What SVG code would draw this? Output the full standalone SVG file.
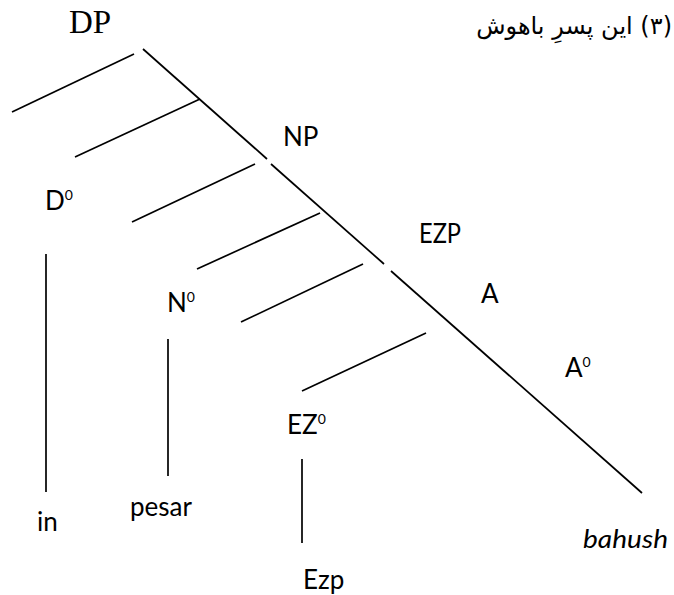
<svg xmlns="http://www.w3.org/2000/svg" width="674" height="595" viewBox="0 0 674 595">
  <style>
    .lbl { font-family: Lato, "Open Sans", sans-serif; font-size: 26px; fill: #000; }
    .sup { font-size: 14px; }
    .it { font-style: italic; }
    .serif { font-family: "Liberation Serif", "Times New Roman", serif; font-size: 33px; fill: #000; }
    .fa { font-family: "DejaVu Sans", sans-serif; font-size: 24px; fill: #000; }
    .edge { stroke: #000; stroke-width: 1.7; fill: none; stroke-linecap: butt; }
  </style>
  <rect width="674" height="595" fill="#fff"/>

  <g id="caption">
    <text class="fa" x="672" y="34" direction="rtl" text-anchor="start">(۳) این پسرِ باهوش</text>
  </g>

  <g id="connectors">
    <line class="edge" x1="143" y1="49" x2="267" y2="159"/>
    <line class="edge" x1="271" y1="164" x2="384" y2="264"/>
    <line class="edge" x1="391" y1="271" x2="642" y2="493"/>
    <line class="edge" x1="12" y1="112" x2="134" y2="54"/>
    <line class="edge" x1="75" y1="157" x2="200" y2="99"/>
    <line class="edge" x1="132" y1="222" x2="255" y2="164"/>
    <line class="edge" x1="197" y1="269" x2="320" y2="213"/>
    <line class="edge" x1="241" y1="322" x2="363" y2="264"/>
    <line class="edge" x1="302" y1="391" x2="426" y2="333"/>
    <line class="edge" x1="46" y1="254" x2="46" y2="492"/>
    <line class="edge" x1="168" y1="339" x2="168" y2="476"/>
    <line class="edge" x1="302" y1="459" x2="302" y2="543"/>
  </g>

  <g id="node-DP"><text class="serif" x="69" y="33">DP</text></g>
  <g id="node-NP"><text class="lbl" x="283" y="146">NP</text></g>
  <g id="node-D0"><text class="lbl" x="45" y="210">D<tspan class="sup" dy="-10">0</tspan></text></g>
  <g id="node-EZP"><text class="lbl" x="419" y="243" textLength="42" lengthAdjust="spacingAndGlyphs">EZP</text></g>
  <g id="node-N0"><text class="lbl" x="167" y="312">N<tspan class="sup" dy="-10">0</tspan></text></g>
  <g id="node-A"><text class="lbl" x="481" y="303">A</text></g>
  <g id="node-A0"><text class="lbl" x="565" y="377">A<tspan class="sup" dy="-10">0</tspan></text></g>
  <g id="node-EZ0"><text class="lbl" x="287" y="434">EZ<tspan class="sup" dy="-10">0</tspan></text></g>
  <g id="node-in"><text class="lbl" x="37" y="531">in</text></g>
  <g id="node-pesar"><text class="lbl" x="130" y="516">pesar</text></g>
  <g id="node-bahush"><text class="lbl it" x="583" y="548" textLength="85" lengthAdjust="spacingAndGlyphs">bahush</text></g>
  <g id="node-Ezp"><text class="lbl" x="303" y="589">Ezp</text></g>
</svg>
